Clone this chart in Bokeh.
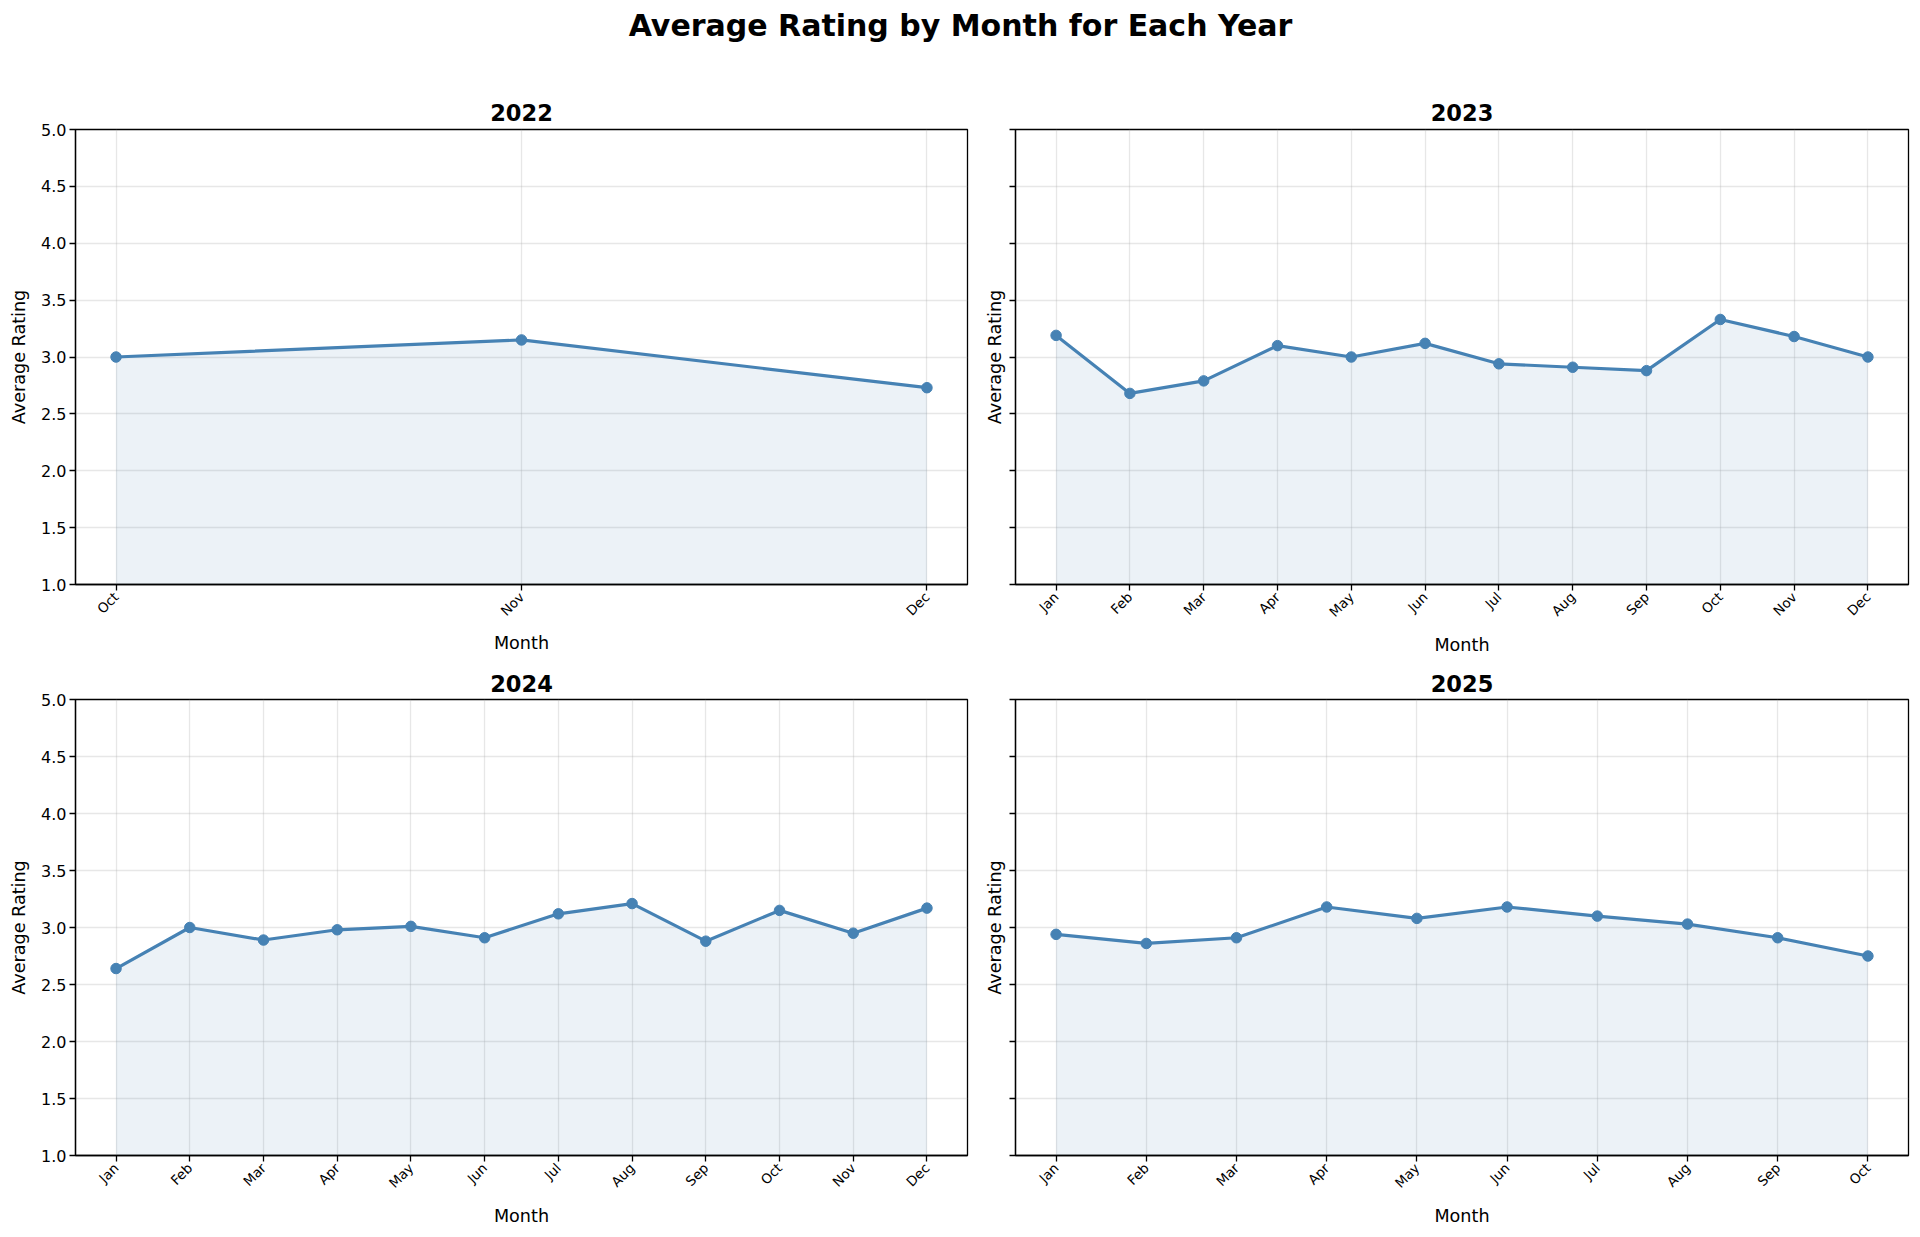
import math
from bokeh.plotting import figure
from bokeh.models import Range1d, FixedTicker, Label, PrintfTickFormatter
from bokeh.layouts import gridplot, column
from bokeh.embed import file_html
from bokeh.resources import INLINE

# ---------------- data ----------------
suptitle = "Average Rating by Month for Each Year"
years = ["2022", "2023", "2024", "2025"]

months_2022 = ["Oct", "Nov", "Dec"]
ratings_2022 = [3.00, 3.15, 2.73]

months_2023 = ["Jan", "Feb", "Mar", "Apr", "May", "Jun", "Jul", "Aug", "Sep", "Oct", "Nov", "Dec"]
ratings_2023 = [3.19, 2.68, 2.79, 3.10, 3.00, 3.12, 2.94, 2.91, 2.88, 3.33, 3.18, 3.00]

months_2024 = ["Jan", "Feb", "Mar", "Apr", "May", "Jun", "Jul", "Aug", "Sep", "Oct", "Nov", "Dec"]
ratings_2024 = [2.64, 3.00, 2.89, 2.98, 3.01, 2.91, 3.12, 3.21, 2.88, 3.15, 2.95, 3.17]

months_2025 = ["Jan", "Feb", "Mar", "Apr", "May", "Jun", "Jul", "Aug", "Sep", "Oct"]
ratings_2025 = [2.94, 2.86, 2.91, 3.18, 3.08, 3.18, 3.10, 3.03, 2.91, 2.75]

y_ticks = [1.0, 1.5, 2.0, 2.5, 3.0, 3.5, 4.0, 4.5, 5.0]
y_min, y_max = 1.0, 5.0
x_label = "Month"
y_label = "Average Rating"

# ---------------- style ----------------
COLOR = "#4682B4"
FONT = "DejaVu Sans"
GRID = "#b0b0b0"


def make_panel(year, months, ratings, left_col, top_row):
    n = len(months)
    xs = list(range(n))
    pad = 0.05 * (n - 1)
    p = figure(
        title=year,
        x_range=Range1d(-pad, n - 1 + pad),
        y_range=Range1d(y_min, y_max),
        frame_width=892 if left_col else 893,
        frame_height=455 if top_row else 456,
        output_backend="svg",
        toolbar_location=None,
    )
    p.min_border_left = 75 if left_col else 38
    p.min_border_right = 10 if left_col else 4
    p.min_border_top = 71 if top_row else 42
    p.min_border_bottom = 73 if top_row else 70

    p.title.text_font = FONT
    p.title.text_font_size = "22.5px"
    p.title.text_font_style = "bold"
    p.title.text_color = "black"
    p.title.align = "center"
    p.title.standoff = 18 if top_row else 15

    p.outline_line_color = "black"
    p.outline_line_width = 1.3
    p.outline_line_alpha = 1.0
    p.background_fill_color = "white"
    p.border_fill_color = "white"

    p.varea(x=xs, y1=y_min, y2=ratings, fill_color=COLOR, fill_alpha=0.1)
    p.line(xs, ratings, line_color=COLOR, line_width=3.2)
    p.scatter(xs, ratings, size=10.5, fill_color=COLOR, line_color=COLOR)

    # x axis
    xa = p.xaxis[0]
    xa.ticker = FixedTicker(ticks=xs)
    xa.major_label_overrides = {i: m for i, m in enumerate(months)}
    xa.major_label_orientation = math.pi / 4
    xa.major_label_text_font_size = "13.5px"
    xa.major_label_standoff = 4
    xa.axis_label = x_label
    xa.axis_label_standoff = 6

    # y axis
    ya = p.yaxis[0]
    ya.ticker = FixedTicker(ticks=y_ticks)
    ya.formatter = PrintfTickFormatter(format="%.1f")
    ya.major_label_text_font_size = "16px"
    ya.major_label_standoff = 3
    ya.axis_label = y_label
    if left_col:
        ya.axis_label_standoff = 9
    else:
        ya.major_label_overrides = {t: "" for t in y_ticks}
        ya.axis_label_standoff = 5

    for ax in (xa, ya):
        ax.major_label_text_font = FONT
        ax.major_label_text_color = "black"
        ax.axis_label_text_font = FONT
        ax.axis_label_text_font_size = "17.6px"
        ax.axis_label_text_font_style = "normal"
        ax.axis_label_text_color = "black"
        ax.axis_line_color = "black"
        ax.axis_line_width = 1.3
        ax.major_tick_line_color = "black"
        ax.major_tick_line_width = 1.3
        ax.major_tick_out = 6
        ax.major_tick_in = 0
        ax.minor_tick_line_color = None

    p.grid.grid_line_color = GRID
    p.grid.grid_line_alpha = 0.3
    p.grid.grid_line_width = 1.3
    return p


p1 = make_panel(years[0], months_2022, ratings_2022, True, True)
p2 = make_panel(years[1], months_2023, ratings_2023, False, True)
p3 = make_panel(years[2], months_2024, ratings_2024, True, False)
p4 = make_panel(years[3], months_2025, ratings_2025, False, False)

# super title strip
tf = figure(
    width=1912, height=58,
    x_range=Range1d(0, 1912), y_range=Range1d(0, 58),
    x_axis_location=None, y_axis_location=None,
    output_backend="svg", toolbar_location=None, min_border=0,
)
tf.outline_line_color = None
tf.grid.visible = False
tf.add_layout(Label(
    x=960, y=33.5, text=suptitle, text_align="center", text_baseline="middle",
    text_font=FONT, text_font_size="30px", text_font_style="bold", text_color="black",
))

grid = gridplot([[p1, p2], [p3, p4]], toolbar_location=None)
layout = column(tf, grid)

open("out.html", "w").write(file_html(layout, INLINE))
